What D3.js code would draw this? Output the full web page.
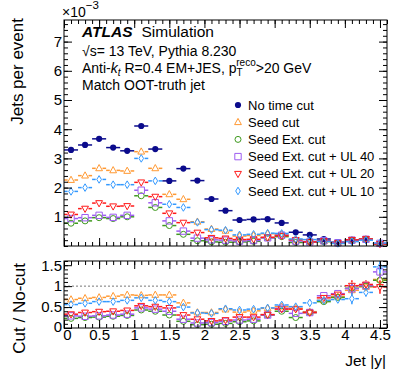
<!DOCTYPE html>
<html><head><meta charset="utf-8">
<script src="https://cdn.jsdelivr.net/npm/d3@7/dist/d3.min.js"></script>
<style>body{margin:0;background:#fff}svg{font-family:"Liberation Sans",Arial,Helvetica,sans-serif}</style>
</head><body><svg id="c" width="407" height="391"></svg>
<script>
// ---------- data ----------
const binCenters = [0.1,0.3,0.5,0.7,0.9,1.1,1.3,1.5,1.7,1.9,2.1,2.3,2.5,2.7,2.9,3.1,3.3,3.5,3.7,3.9,4.1,4.3,4.5];
const binHalfWidth = 0.1;
const seriesNames = ["No time cut","Seed cut","Seed Ext. cut","Seed Ext. cut + UL 40","Seed Ext. cut + UL 20","Seed Ext. cut + UL 10"];
// Jets per event (x 10^-3)
const noCut    = [3.29,3.46,3.67,3.37,3.26,4.11,3.32,2.23,2.65,2.24,1.61,1.21,0.89,0.91,0.92,0.79,0.47,0.38,0.24,0.13,0.21,0.23,0.07];
const seedCut  = [2.26,2.41,2.66,2.59,2.57,3.23,2.66,1.77,1.60,0.83,0.58,0.52,0.34,0.36,0.42,0.40,0.22,0.15,0.16,0.10,0.19,0.23,0.08];
const seedExt  = [0.78,0.86,0.97,0.94,1.00,1.72,1.32,0.70,0.40,0.18,0.14,0.13,0.14,0.16,0.28,0.32,0.12,0.14,0.15,0.09,0.20,0.23,0.08];
const seedUL40 = [0.94,0.97,1.05,0.98,1.05,1.91,1.48,0.86,0.51,0.27,0.21,0.20,0.17,0.19,0.28,0.37,0.17,0.14,0.18,0.11,0.20,0.23,0.09];
const seedUL20 = [1.08,1.28,1.47,1.36,1.37,2.18,1.69,1.12,0.80,0.46,0.28,0.26,0.22,0.23,0.30,0.35,0.21,0.14,0.17,0.10,0.21,0.24,0.07];
const seedUL10 = [1.87,2.00,2.28,2.10,2.10,3.00,2.23,1.43,1.32,0.81,0.56,0.54,0.38,0.40,0.44,0.43,0.24,0.22,0.16,0.09,0.15,0.20,0.10];
// Cut / No-cut
const ratioSeed   = [0.68,0.71,0.73,0.76,0.79,0.78,0.79,0.79,0.60,0.37,0.37,0.44,0.38,0.41,0.47,0.51,0.47,0.39,0.66,0.75,0.90,0.98,1.16];
const ratioExt    = [0.23,0.25,0.26,0.28,0.30,0.43,0.40,0.31,0.16,0.08,0.09,0.11,0.15,0.17,0.31,0.40,0.25,0.37,0.63,0.73,0.95,1.00,1.14];
const ratioUL40   = [0.29,0.28,0.29,0.31,0.33,0.48,0.45,0.40,0.21,0.12,0.13,0.16,0.19,0.21,0.31,0.47,0.35,0.37,0.77,0.82,0.94,1.01,1.34];
const ratioUL20   = [0.33,0.37,0.39,0.40,0.42,0.53,0.51,0.48,0.31,0.21,0.17,0.19,0.26,0.26,0.32,0.45,0.45,0.37,0.72,0.80,1.01,1.04,0.98];
const ratioUL10   = [0.56,0.59,0.63,0.63,0.66,0.72,0.66,0.63,0.50,0.36,0.35,0.46,0.43,0.45,0.48,0.55,0.51,0.60,0.66,0.68,0.70,0.85,1.46];
const ratioErr    = [0.02,0.02,0.02,0.02,0.02,0.02,0.02,0.02,0.03,0.03,0.03,0.04,0.04,0.04,0.04,0.05,0.06,0.06,0.07,0.08,0.13,0.10,0.16];
const xTicksMajor = [0,0.5,1,1.5,2,2.5,3,3.5,4,4.5];
const yTicksMain  = [1,2,3,4,5,6,7];
const yTicksRatio = [0,0.5,1,1.5];

// ---------- styles ----------
const colors  = ["#0b0b8c","#ff9933","#3f9a1f","#9d5cf0","#ff1a1a","#3399ff"];
const markers = ["fcircle","tri","circle","square","tridown","diamond"];
const mainSeries  = [noCut, seedCut, seedExt, seedUL40, seedUL20, seedUL10];
const ratioSeries = [null, ratioSeed, ratioExt, ratioUL40, ratioUL20, ratioUL10];

const svg = d3.select("#c");
const L = 64, R = 387, mT = 20, mB = 246, rT = 261, rB = 328;
const x  = d3.scaleLinear().domain([0,4.6]).range([L,R]);
const ym = d3.scaleLinear().domain([0,7.74]).range([mB,mT]);
const yr = d3.scaleLinear().domain([0,1.6]).range([rB,rT]);

function markerPath(type){
  switch(type){
    case "tri": return "M0,-3.8L3.4,2.4L-3.4,2.4Z";
    case "tridown": return "M0,3.8L3.4,-2.4L-3.4,-2.4Z";
    case "square": return "M-3.2,-3.2H3.2V3.2H-3.2Z";
    case "diamond": return "M0,-3.8L2.3,0L0,3.8L-2.3,0Z";
    default: return null;
  }
}
function drawMarker(g, type, color, cx, cy){
  if(type==="fcircle"){
    g.append("circle").attr("cx",cx).attr("cy",cy).attr("r",3.1).attr("fill",color);
  } else if(type==="circle"){
    g.append("circle").attr("cx",cx).attr("cy",cy).attr("r",3).attr("fill","none").attr("stroke",color).attr("stroke-width",1);
  } else {
    g.append("path").attr("d",markerPath(type)).attr("transform",`translate(${cx},${cy})`)
     .attr("fill","none").attr("stroke",color).attr("stroke-width",1);
  }
}

svg.append("defs").append("clipPath").attr("id","rclip").append("rect")
   .attr("x",L).attr("y",rT).attr("width",R-L).attr("height",rB-rT);

svg.append("line").attr("x1",L).attr("x2",R).attr("y1",yr(1)).attr("y2",yr(1))
   .attr("stroke","#777").attr("stroke-width",1).attr("stroke-dasharray","2,2");

function drawSeries(g, vals, errs, yS, color, type){
  vals.forEach((v,i)=>{
    const cx = x(binCenters[i]), cy = yS(v);
    const gap = type==="fcircle" ? 0 : 3.4;
    const xl = x(binCenters[i]-binHalfWidth), xr = x(binCenters[i]+binHalfWidth);
    g.append("line").attr("x1",xl).attr("x2",cx-gap).attr("y1",cy).attr("y2",cy).attr("stroke",color).attr("stroke-width",1.5);
    g.append("line").attr("x1",cx+gap).attr("x2",xr).attr("y1",cy).attr("y2",cy).attr("stroke",color).attr("stroke-width",1.5);
    if(errs){
      const e = errs[i];
      const y1 = yS(v+e), y2 = yS(v-e);
      if(y1 < cy-gap) g.append("line").attr("x1",cx).attr("x2",cx).attr("y1",y1).attr("y2",cy-gap).attr("stroke",color).attr("stroke-width",1.5);
      if(y2 > cy+gap) g.append("line").attr("x1",cx).attr("x2",cx).attr("y1",cy+gap).attr("y2",y2).attr("stroke",color).attr("stroke-width",1.5);
    }
    drawMarker(g, type, color, cx, cy);
  });
}

const gMain = svg.append("g");
mainSeries.forEach((s,k)=> drawSeries(gMain, s, null, ym, colors[k], markers[k]));
const gRatio = svg.append("g").attr("clip-path","url(#rclip)");
[1,2,3,4,5].forEach(k=> drawSeries(gRatio, ratioSeries[k], ratioErr, yr, colors[k], markers[k]));

// ---------- axes ----------
function styleAxis(g){
  g.select(".domain").remove();
  g.selectAll("line").attr("stroke","#000").attr("stroke-width",1);
  g.selectAll("text").attr("font-size",15).attr("fill","#000").attr("font-family","Liberation Sans, Arial, sans-serif");
}
const xMinor = d3.range(0,4.61,0.1).map(d=>+d.toFixed(2));
function frameAxes(yS, top, bot, yMajor, yMinorStep, yMax, showX){
  const yMinor = d3.range(0,yMax+1e-6,yMinorStep).map(d=>+d.toFixed(2));
  const gx = svg.append("g").attr("transform",`translate(0,${bot})`)
     .call(d3.axisBottom(x).tickValues(xTicksMajor).tickSize(-8).tickPadding(1).tickFormat(showX? d3.format("~g") : ""))
     .call(styleAxis);
  // shift the "0" label slightly right, as in the reference
  gx.selectAll(".tick").filter(d=>d===0).select("text").attr("dx",3);
  svg.append("g").attr("transform",`translate(0,${bot})`)
     .call(d3.axisBottom(x).tickValues(xMinor).tickSize(-4).tickFormat("")).call(styleAxis);
  svg.append("g").attr("transform",`translate(0,${top})`)
     .call(d3.axisTop(x).tickValues(xTicksMajor).tickSize(-8).tickFormat("")).call(styleAxis);
  svg.append("g").attr("transform",`translate(0,${top})`)
     .call(d3.axisTop(x).tickValues(xMinor).tickSize(-4).tickFormat("")).call(styleAxis);
  const gy = svg.append("g").attr("transform",`translate(${L},0)`)
     .call(d3.axisLeft(yS).tickValues(yMajor).tickSize(-8).tickPadding(2).tickFormat(d3.format("~g"))).call(styleAxis);
  gy.selectAll(".tick").filter(d=>d===0).select("text").attr("dy","0.2em");
  svg.append("g").attr("transform",`translate(${L},0)`)
     .call(d3.axisLeft(yS).tickValues(yMinor).tickSize(-4).tickFormat("")).call(styleAxis);
  svg.append("g").attr("transform",`translate(${R},0)`)
     .call(d3.axisRight(yS).tickValues(yMajor).tickSize(-8).tickFormat("")).call(styleAxis);
  svg.append("g").attr("transform",`translate(${R},0)`)
     .call(d3.axisRight(yS).tickValues(yMinor).tickSize(-4).tickFormat("")).call(styleAxis);
  svg.append("rect").attr("x",L).attr("y",top).attr("width",R-L).attr("height",bot-top)
     .attr("fill","none").attr("stroke","#000").attr("stroke-width",1);
}
frameAxes(ym, mT, mB, yTicksMain, 0.2, 7.74, false);
frameAxes(yr, rT, rB, yTicksRatio, 0.1, 1.6, true);

// ---------- titles ----------
const txt = (xx,yy,s,opt={}) => svg.append("text").attr("x",xx).attr("y",yy).attr("font-size",opt.size||14)
   .attr("text-anchor",opt.anchor||"start").attr("fill","#000").text(s);
svg.append("text").attr("transform","translate(23,18) rotate(-90)").attr("text-anchor","end").attr("font-size",17).text("Jets per event");
svg.append("text").attr("transform","translate(25,263) rotate(-90)").attr("text-anchor","end").attr("font-size",17).text("Cut / No-cut");
txt(386,366,"Jet |y|",{anchor:"end",size:15.5});
const e3 = svg.append("text").attr("x",62).attr("y",17).attr("font-size",14);
e3.append("tspan").text("×10");
e3.append("tspan").attr("dy",-8).attr("font-size",11.5).text("−3");

const at = svg.append("text").attr("x",82).attr("y",37).attr("font-size",15.5);
at.append("tspan").attr("font-weight","bold").attr("font-style","italic").text("ATLAS");
at.append("tspan").attr("dx",9).text("Simulation");
const l2 = svg.append("text").attr("x",82).attr("y",56).attr("font-size",14);
l2.append("tspan").text("√s= 13 TeV, Pythia 8.230");
const l3 = svg.append("text").attr("x",82).attr("y",73).attr("font-size",14);
l3.append("tspan").text("Anti-");
l3.append("tspan").attr("font-style","italic").text("k");
l3.append("tspan").attr("font-style","italic").attr("font-size",10).attr("dy",3).text("t");
l3.append("tspan").attr("dy",-3).text(" R=0.4 EM+JES, p");
l3.append("tspan").attr("font-size",10).attr("dy",3).text("T");
l3.append("tspan").attr("font-size",10).attr("dy",-10).attr("dx",-6).text("reco");
l3.append("tspan").attr("dy",7).text(">20 GeV");
txt(82,90,"Match OOT-truth jet",{size:14});

// ---------- legend ----------
const legY0 = 105, legDY = 17.2;
seriesNames.forEach((n,k)=>{
  const cy = legY0 + k*legDY;
  drawMarker(svg, markers[k], colors[k], 238, cy);
  txt(248, cy+4.5, n, {size:13});
});
</script></body></html>
